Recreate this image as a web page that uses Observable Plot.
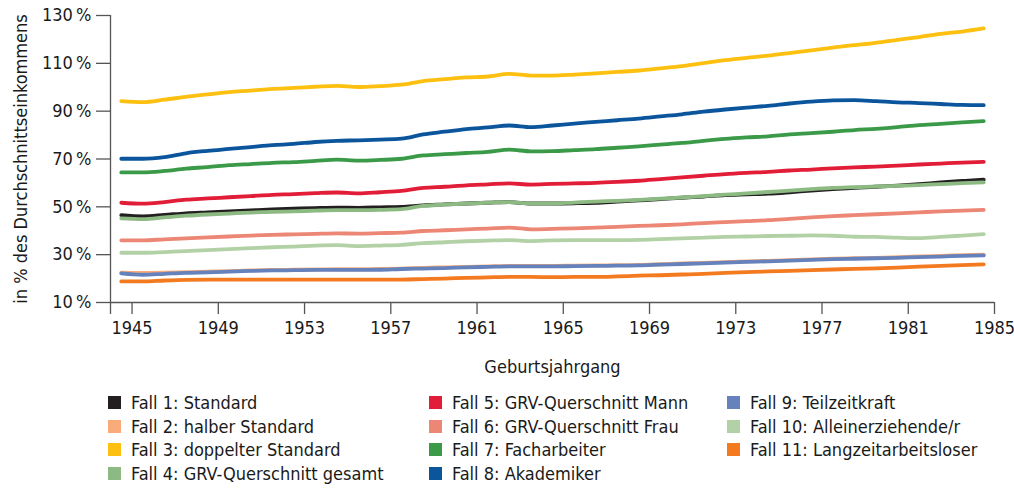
<!DOCTYPE html>
<html><head><meta charset="utf-8">
<script src="https://cdn.jsdelivr.net/npm/d3@7"></script>
<script src="https://cdn.jsdelivr.net/npm/@observablehq/plot@0.6"></script>
<style>
body{margin:0;background:#fff;font-family:"Liberation Sans Narrow","DejaVu Sans Condensed",sans-serif;color:#1a1a1a;}
#wrap{position:relative;width:1014px;height:488px;}
#legend{position:absolute;left:0;top:391px;width:1014px;height:95px;font-size:18px;}
.col{position:absolute;top:0;}
.item{height:23.5px;display:flex;align-items:center;white-space:nowrap;}
.sw{width:13px;height:13px;margin-right:10px;flex:none;}
</style></head>
<body><div id="wrap"><div id="chart"></div><div id="legend"></div></div>
<script>
const years = d3.range(1945, 1986);
const seriesNames = [
  "Fall 1: Standard","Fall 2: halber Standard","Fall 3: doppelter Standard","Fall 4: GRV-Querschnitt gesamt",
  "Fall 5: GRV-Querschnitt Mann","Fall 6: GRV-Querschnitt Frau","Fall 7: Facharbeiter","Fall 8: Akademiker",
  "Fall 9: Teilzeitkraft","Fall 10: Alleinerziehende/r","Fall 11: Langzeitarbeitsloser"
];
const colors = ["#231f20","#f9ac79","#fdc010","#8cba82","#e21d38","#ec8675","#3a9a48","#0a559c","#6582bd","#b3d1a6","#f47a20"];
const fall1 = [46.5,46.0,46.6,47.3,47.7,48.1,48.5,48.9,49.2,49.5,49.7,49.6,49.8,50.0,50.6,51.0,51.4,51.7,52.0,51.4,51.4,51.5,51.7,52.2,52.7,53.2,53.8,54.3,54.9,55.2,55.5,56.1,56.8,57.4,57.9,58.4,58.9,59.5,60.2,60.8,61.4];
const fall2 = [22.5,22.4,22.5,22.7,22.9,23.1,23.4,23.6,23.7,23.8,23.9,23.9,24.0,24.2,24.5,24.7,24.9,25.1,25.3,25.3,25.3,25.4,25.5,25.6,25.7,26.0,26.3,26.6,26.9,27.2,27.4,27.7,28.0,28.3,28.5,28.7,29.0,29.3,29.5,29.8,30.0];
const fall3 = [94.2,93.8,94.8,96.0,97.0,98.0,98.6,99.3,99.7,100.2,100.6,100.1,100.5,101.1,102.6,103.4,104.1,104.5,105.6,104.9,104.9,105.3,105.8,106.4,107.0,107.9,108.8,110.1,111.3,112.3,113.2,114.3,115.4,116.6,117.6,118.6,119.8,121.0,122.3,123.3,124.6];
const fall4 = [45.2,44.9,45.6,46.3,46.8,47.2,47.6,47.9,48.1,48.4,48.6,48.6,48.7,49.0,50.4,50.9,51.4,51.7,52.0,51.4,51.4,51.8,52.2,52.5,52.9,53.4,53.9,54.5,55.1,55.6,56.2,56.8,57.4,57.9,58.2,58.5,58.8,59.1,59.5,59.9,60.2];
const fall5 = [51.7,51.3,52.0,53.0,53.5,54.0,54.5,55.0,55.3,55.7,56.0,55.6,56.1,56.7,57.9,58.4,59.0,59.4,59.8,59.3,59.6,59.8,60.0,60.4,60.9,61.6,62.3,63.0,63.7,64.2,64.6,65.2,65.6,66.1,66.5,66.8,67.2,67.7,68.1,68.5,68.8];
const fall6 = [36.0,36.0,36.4,36.8,37.2,37.6,38.0,38.3,38.5,38.7,38.9,38.8,39.0,39.2,39.9,40.2,40.6,40.9,41.3,40.6,40.8,41.0,41.3,41.6,42.0,42.3,42.7,43.2,43.6,44.0,44.4,45.0,45.6,46.1,46.5,46.9,47.3,47.7,48.1,48.4,48.7];
const fall7 = [64.4,64.4,65.0,66.0,66.6,67.4,67.9,68.4,68.7,69.2,69.7,69.3,69.6,70.1,71.5,72.0,72.5,73.0,73.9,73.2,73.3,73.7,74.1,74.7,75.3,76.0,76.7,77.6,78.4,79.0,79.5,80.3,80.8,81.4,82.1,82.6,83.3,84.2,84.7,85.3,85.8];
const fall8 = [70.1,70.1,70.8,72.4,73.4,74.2,75.0,75.8,76.3,77.1,77.6,77.8,78.1,78.5,80.3,81.4,82.5,83.2,84.0,83.3,84.0,84.8,85.5,86.2,86.9,87.8,88.7,89.8,90.7,91.5,92.2,93.2,94.0,94.5,94.6,94.2,93.7,93.4,93.0,92.6,92.5];
const fall9 = [22.2,21.6,22.0,22.4,22.6,22.9,23.2,23.4,23.5,23.6,23.6,23.6,23.7,24.0,24.2,24.4,24.7,24.9,25.1,25.1,25.1,25.2,25.3,25.4,25.5,25.8,26.1,26.4,26.7,27.0,27.2,27.5,27.8,28.1,28.3,28.5,28.7,29.0,29.2,29.5,29.7];
const fall10 = [30.8,30.8,31.1,31.5,31.9,32.3,32.7,33.1,33.4,33.8,34.0,33.6,33.8,34.1,34.8,35.2,35.6,35.9,36.1,35.7,36.0,36.1,36.1,36.1,36.2,36.5,36.8,37.1,37.4,37.6,37.8,37.9,38.1,37.9,37.5,37.4,37.1,36.9,37.4,38.0,38.6];
const fall11 = [18.8,18.8,19.2,19.5,19.6,19.6,19.6,19.6,19.6,19.6,19.6,19.6,19.6,19.6,19.8,20.0,20.3,20.5,20.7,20.7,20.6,20.7,20.7,20.9,21.2,21.4,21.7,22.0,22.4,22.7,23.0,23.2,23.5,23.8,24.1,24.3,24.6,25.0,25.3,25.6,25.9];
const yTicks = [10,30,50,70,90,110,130];
const xTicks = [1945,1949,1953,1957,1961,1965,1969,1973,1977,1981,1985];

const allSeries = [fall1,fall2,fall3,fall4,fall5,fall6,fall7,fall8,fall9,fall10,fall11];
const rows = [];
allSeries.forEach((vals, i) => vals.forEach((v, j) => rows.push({series: seriesNames[i], year: years[j], value: v})));

const font = `"Liberation Sans Narrow","DejaVu Sans Condensed",sans-serif`;
const chart = Plot.plot({
  width: 1014, height: 385,
  marginLeft: 110, marginRight: 20, marginTop: 15, marginBottom: 83,
  style: {fontFamily: font, fontSize: "18px", color: "#1a1a1a", background: "#fff"},
  x: {domain: [1944, 1985]},
  y: {domain: [10, 130]},
  color: {domain: seriesNames, range: colors},
  marks: [
    Plot.ruleY([10], {stroke: "#555", strokeWidth: 1.3}),
    Plot.ruleX([1944], {y1: 10, y2: 130, stroke: "#555", strokeWidth: 1.3}),
    Plot.axisY({ticks: yTicks, tickSize: 14, tickPadding: 5, stroke: "#555", strokeWidth: 1.3,
      tickFormat: d => d + "\u2009%", label: "in % des Durchschnittseinkommens",
      labelAnchor: "center", labelArrow: "none", labelOffset: 96, fontSize: 18}),
    Plot.axisX({ticks: [1944, ...xTicks], tickSize: 12, tickPadding: 7, stroke: "#555", strokeWidth: 1.3,
      tickFormat: d => d === 1944 ? "" : String(d), label: "Geburtsjahrgang",
      labelAnchor: "center", labelArrow: "none", labelOffset: 70, fontSize: 18}),
    Plot.line(rows, {x: d => d.year - 0.5, y: "value", z: "series", stroke: "series",
      strokeWidth: 3.8, curve: "monotone-x"})
  ]
});
document.getElementById("chart").appendChild(chart);

const legend = document.getElementById("legend");
const colX = [108, 429, 727];
[[0,1,2,3],[4,5,6,7],[8,9,10]].forEach((idx, c) => {
  const col = document.createElement("div");
  col.className = "col"; col.style.left = colX[c] + "px";
  idx.forEach(i => {
    const it = document.createElement("div"); it.className = "item";
    const sw = document.createElement("span"); sw.className = "sw"; sw.style.background = colors[i];
    const tx = document.createElement("span"); tx.textContent = seriesNames[i];
    it.appendChild(sw); it.appendChild(tx); col.appendChild(it);
  });
  legend.appendChild(col);
});
</script></body></html>
